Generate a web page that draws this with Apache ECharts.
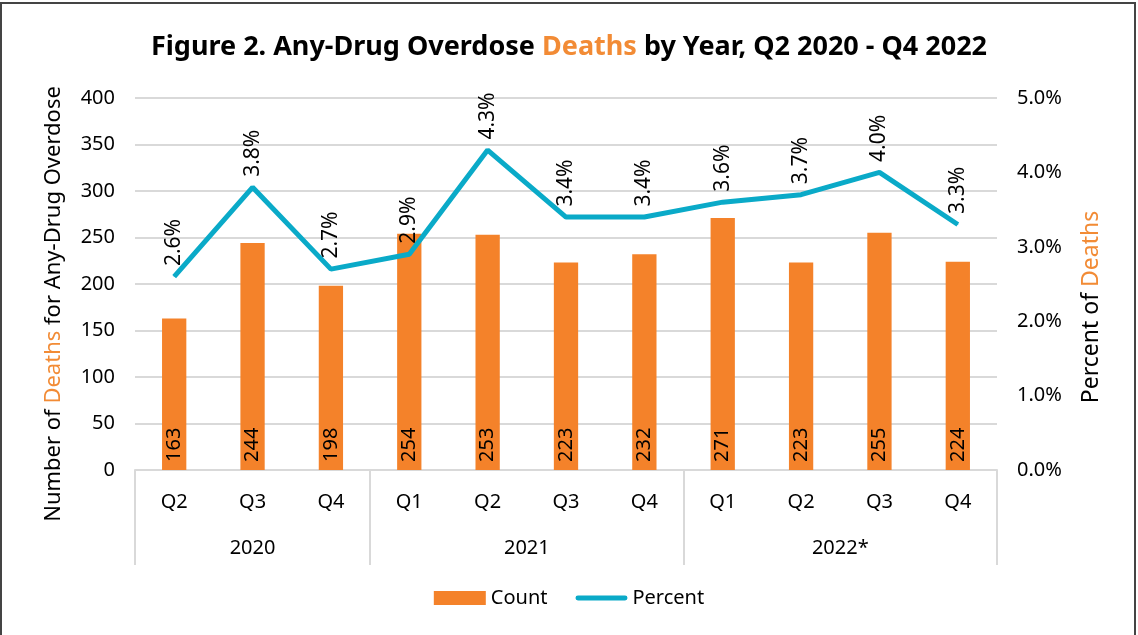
<!DOCTYPE html>
<html>
<head>
<meta charset="utf-8">
<script src="https://cdn.jsdelivr.net/npm/echarts@6/dist/echarts.min.js"></script>
<style>
  html, body { margin: 0; padding: 0; background: #fff; }
  #chart-container { width: 1138px; height: 635px; }
</style>
</head>
<body>
<div id="chart-container"></div>
<script>
var quarters = ['Q2', 'Q3', 'Q4', 'Q1', 'Q2', 'Q3', 'Q4', 'Q1', 'Q2', 'Q3', 'Q4'];
var years = ['2020', '2021', '2022*'];
var quartersPerYear = [3, 4, 4];
var counts = [163, 244, 198, 254, 253, 223, 232, 271, 223, 255, 224];
var percents = [2.6, 3.8, 2.7, 2.9, 4.3, 3.4, 3.4, 3.6, 3.7, 4.0, 3.3];

var ORANGE = '#F4822A';
var TEAL = '#0AAAC8';
var FONT = 'Noto Sans';

// year row: half-slot points, ticks at group edges, labels at group centres
var yearSlots = [];
var yearTicks = [0];
var pos = 0;
for (var i = 0; i <= quarters.length * 2; i++) yearSlots.push('');
years.forEach(function (y, k) {
  yearSlots[pos + quartersPerYear[k]] = y;
  pos += quartersPerYear[k] * 2;
  yearTicks.push(pos);
});

var dom = document.getElementById('chart-container');
var myChart = echarts.init(dom, null, { renderer: 'canvas' });

var option = {
  animation: false,
  textStyle: { fontFamily: FONT },
  title: {
    left: 'center',
    top: 29,
    text: '{a|Figure 2. Any-Drug Overdose }{b|Deaths}{a| by Year, Q2 2020 - Q4 2022}',
    textStyle: {
      rich: {
        a: { fontFamily: FONT, fontSize: 27, fontWeight: 'bold', color: '#000' },
        b: { fontFamily: FONT, fontSize: 27, fontWeight: 'bold', color: '#F28B35' }
      }
    }
  },
  graphic: [{
    type: 'rect',
    shape: { x: 1, y: 3, width: 1134, height: 700 },
    style: { fill: 'none', stroke: '#444', lineWidth: 2 },
    silent: true
  }],
  legend: {
    bottom: 22,
    left: 'center',
    itemWidth: 52,
    itemHeight: 14,
    itemGap: 28,
    textStyle: { fontSize: 20, color: '#000', fontFamily: FONT },
    data: [
      { name: 'Count', icon: 'rect' },
      { name: 'Percent', icon: 'path://M2,0 L50,0 A2.5,2.5 0 0 1 50,5 L2,5 A2.5,2.5 0 0 1 2,0 Z' }
    ]
  },
  grid: { left: 135, right: 141, top: 98, bottom: 165, containLabel: false },
  xAxis: [{
    type: 'category',
    data: quarters,
    position: 'bottom',
    axisLine: { lineStyle: { color: '#d9d9d9', width: 2 } },
    axisTick: { show: false },
    axisLabel: { color: '#000', fontSize: 20, margin: 22, interval: 0 }
  }, {
    type: 'category',
    data: yearSlots,
    position: 'bottom',
    offset: 0,
    boundaryGap: false,
    axisLine: { show: false },
    axisTick: {
      show: true,
      length: 95,
      interval: function (idx) { return yearTicks.indexOf(idx) >= 0; },
      lineStyle: { color: '#d9d9d9', width: 2 }
    },
    axisLabel: { color: '#000', fontSize: 20, margin: 68, interval: 0 }
  }],
  yAxis: [{
    type: 'value',
    min: 0,
    max: 400,
    interval: 50,
    name: '{a|Number of }{b|Deaths}{a| for Any-Drug Overdose}',
    nameLocation: 'middle',
    nameRotate: 90,
    nameGap: 70,
    nameTextStyle: {
      padding: [0, 40, 0, 0],
      rich: {
        a: { fontFamily: FONT, fontSize: 22, color: '#000' },
        b: { fontFamily: FONT, fontSize: 22, color: '#F28B35' }
      }
    },
    axisLine: { show: false },
    axisTick: { show: false },
    axisLabel: { color: '#000', fontSize: 20, margin: 20 },
    splitLine: { lineStyle: { color: '#d9d9d9', width: 2 } }
  }, {
    type: 'value',
    min: 0,
    max: 5,
    interval: 1,
    position: 'right',
    name: '{a|Percent of }{b|Deaths}',
    nameLocation: 'middle',
    nameRotate: 90,
    nameGap: 83,
    nameTextStyle: {
      padding: [0, 46, 0, 0],
      rich: {
        a: { fontFamily: FONT, fontSize: 23, color: '#000' },
        b: { fontFamily: FONT, fontSize: 23, color: '#F28B35' }
      }
    },
    axisLine: { show: false },
    axisTick: { show: false },
    axisLabel: {
      color: '#000', fontSize: 20, margin: 20,
      formatter: function (v) { return v.toFixed(1) + '%'; }
    },
    splitLine: { show: false }
  }],
  series: [{
    name: 'Count',
    type: 'bar',
    xAxisIndex: 0,
    yAxisIndex: 0,
    data: counts,
    barWidth: '31%',
    itemStyle: { color: ORANGE },
    label: {
      show: true,
      position: 'insideBottom',
      rotate: 90,
      align: 'left',
      verticalAlign: 'middle',
      distance: 8,
      color: '#000',
      fontSize: 20,
      fontFamily: FONT
    }
  }, {
    name: 'Percent',
    type: 'line',
    xAxisIndex: 0,
    yAxisIndex: 1,
    data: percents,
    symbol: 'circle',
    symbolSize: 1,
    showSymbol: true,
    lineStyle: { color: TEAL, width: 5 },
    itemStyle: { color: TEAL },
    label: {
      show: true,
      position: 'top',
      rotate: 90,
      align: 'left',
      verticalAlign: 'middle',
      distance: 10,
      color: '#000',
      fontSize: 21,
      fontFamily: FONT,
      formatter: function (p) { return p.value.toFixed(1) + '%'; }
    }
  }]
};

myChart.setOption(option);
window.addEventListener('resize', myChart.resize);
</script>
</body>
</html>
